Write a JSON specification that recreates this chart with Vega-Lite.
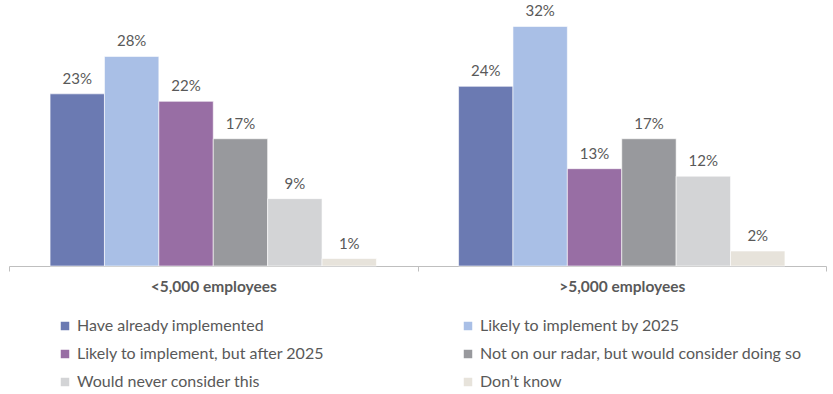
{
  "$schema": "https://vega.github.io/schema/vega-lite/v6.json",
  "width": 817,
  "height": 262,
  "padding": {"left": 8, "top": 4, "right": 8, "bottom": 0},
  "background": "white",
  "config": {
    "view": {"stroke": null},
    "font": "Lato",
    "text": {"font": "Lato"}
  },
  "data": {
    "values": [
      {"group": "<5,000 employees", "category": "Have already implemented", "value": 0.23},
      {"group": "<5,000 employees", "category": "Likely to implement by 2025", "value": 0.28},
      {"group": "<5,000 employees", "category": "Likely to implement, but after 2025", "value": 0.22},
      {"group": "<5,000 employees", "category": "Not on our radar, but would consider doing so", "value": 0.17},
      {"group": "<5,000 employees", "category": "Would never consider this", "value": 0.09},
      {"group": "<5,000 employees", "category": "Don’t know", "value": 0.01},
      {"group": ">5,000 employees", "category": "Have already implemented", "value": 0.24},
      {"group": ">5,000 employees", "category": "Likely to implement by 2025", "value": 0.32},
      {"group": ">5,000 employees", "category": "Likely to implement, but after 2025", "value": 0.13},
      {"group": ">5,000 employees", "category": "Not on our radar, but would consider doing so", "value": 0.17},
      {"group": ">5,000 employees", "category": "Would never consider this", "value": 0.12},
      {"group": ">5,000 employees", "category": "Don’t know", "value": 0.02}
    ]
  },
  "encoding": {
    "x": {
      "field": "group",
      "type": "nominal",
      "sort": ["<5,000 employees", ">5,000 employees"],
      "scale": {"paddingInner": 0, "paddingOuter": 0},
      "axis": {
        "title": null,
        "labelAngle": 0,
        "labelFontWeight": "bold",
        "labelFontSize": 15.5,
        "labelColor": "#595959",
        "labelPadding": 8,
        "domainColor": "#bfbfbf",
        "tickColor": "#bfbfbf",
        "tickSize": 5,
        "tickBand": "extent"
      }
    },
    "xOffset": {
      "field": "category",
      "type": "nominal",
      "sort": ["Have already implemented", "Likely to implement by 2025", "Likely to implement, but after 2025", "Not on our radar, but would consider doing so", "Would never consider this", "Don’t know"],
      "scale": {"paddingInner": 0, "paddingOuter": 0.755}
    },
    "y": {
      "field": "value",
      "type": "quantitative",
      "scale": {"domain": [0, 0.35], "nice": false},
      "axis": null
    }
  },
  "layer": [
    {
      "mark": {"type": "bar", "stroke": "white", "strokeWidth": 0.6},
      "encoding": {
        "color": {
          "field": "category",
          "type": "nominal",
          "sort": ["Have already implemented", "Likely to implement by 2025", "Likely to implement, but after 2025", "Not on our radar, but would consider doing so", "Would never consider this", "Don’t know"],
          "scale": {
            "domain": ["Have already implemented", "Likely to implement by 2025", "Likely to implement, but after 2025", "Not on our radar, but would consider doing so", "Would never consider this", "Don’t know"],
            "range": ["#6b7ab2", "#a9bfe6", "#986ea4", "#98999d", "#d3d4d6", "#e7e3db"]
          },
          "legend": {
            "title": null,
            "orient": "none",
            "legendX": 48,
            "legendY": 314,
            "columns": 2,
            "direction": "horizontal",
            "symbolType": "square",
            "symbolSize": 72,
            "symbolStrokeWidth": 0,
            "labelFontSize": 16,
            "labelColor": "#595959",
            "labelFont": "Lato",
            "labelOffset": 4,
            "gridAlign": "all",
            "columnPadding": 61,
            "rowPadding": 12,
            "labelLimit": 400
          }
        }
      }
    },
    {
      "mark": {"type": "text", "baseline": "bottom", "dy": -7, "fontSize": 15, "color": "#595959"},
      "encoding": {
        "text": {"field": "value", "type": "quantitative", "format": ".0%"}
      }
    }
  ]
}
